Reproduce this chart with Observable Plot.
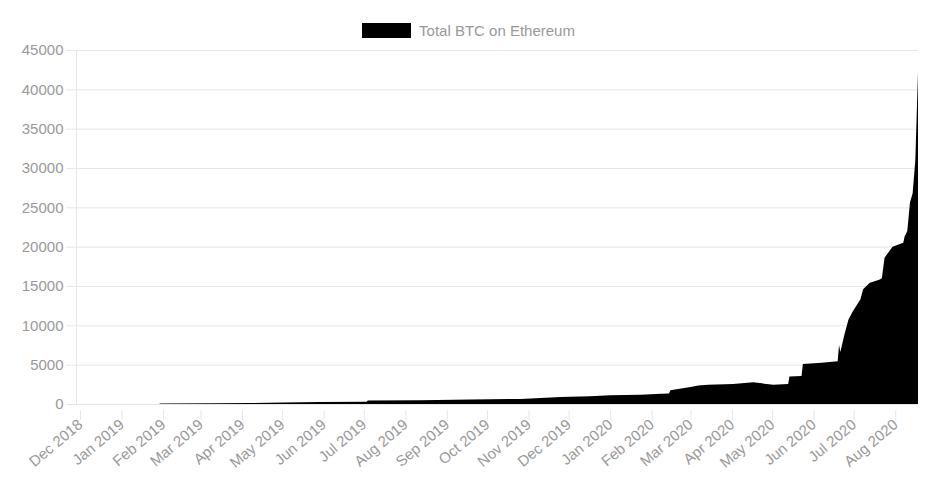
<!DOCTYPE html>
<html>
<head>
<meta charset="utf-8">
<script src="https://cdn.jsdelivr.net/npm/d3@7"></script>
<script src="https://cdn.jsdelivr.net/npm/@observablehq/plot@0.6"></script>
<style>
  html, body { margin: 0; padding: 0; background: #fff; }
  body { width: 937px; height: 503px; overflow: hidden; font-family: "Liberation Sans", Arial, Helvetica, sans-serif; }
  #legend { height: 40px; display: flex; justify-content: center; align-items: center; box-sizing: border-box; font-size: 15px; color: #999; }
  #legend .box { width: 49px; height: 15px; background: #000; margin-right: 8px; margin-top: 20px; }
  #legend .lbl { margin-top: 20px; line-height: 15px; }
</style>
</head>
<body>
<div id="legend"><span class="box"></span><span class="lbl">Total BTC on Ethereum</span></div>
<div id="chart"></div>
<script>
const seriesName = "Total BTC on Ethereum";
const dates = [
  "2019-02-01","2019-02-02","2019-03-15","2019-04-10","2019-05-05","2019-06-01","2019-07-06","2019-07-07",
  "2019-08-15","2019-09-22","2019-10-29","2019-11-28","2019-12-20","2020-01-04","2020-01-27","2020-02-11",
  "2020-02-17","2020-02-18","2020-03-04","2020-03-10","2020-03-17","2020-04-05","2020-04-20","2020-05-05",
  "2020-05-16","2020-05-17","2020-05-26","2020-05-27","2020-06-10","2020-06-22","2020-06-23","2020-06-24",
  "2020-06-27","2020-06-30","2020-07-03","2020-07-09","2020-07-11","2020-07-16","2020-07-23","2020-07-25",
  "2020-07-27","2020-08-02","2020-08-10","2020-08-11","2020-08-13","2020-08-15","2020-08-17","2020-08-19",
  "2020-08-20","2020-08-21"
];
const values = [
  0, 60, 80, 120, 200, 260, 300, 450,
  480, 560, 640, 900, 1000, 1100, 1170, 1300,
  1350, 1750, 2150, 2350, 2450, 2550, 2750, 2450,
  2550, 3500, 3550, 5100, 5250, 5450, 7500, 6600,
  8800, 10700, 11700, 13300, 14600, 15400, 15800, 16000,
  18600, 20000, 20500, 21300, 22000, 25600, 26800, 31000,
  36500, 42200
];
const xDomainDates = ["2018-12-01", "2020-08-21"];
const xTickDates = [
  "2018-12-01","2019-01-01","2019-02-01","2019-03-01","2019-04-01","2019-05-01","2019-06-01","2019-07-01",
  "2019-08-01","2019-09-01","2019-10-01","2019-11-01","2019-12-01","2020-01-01","2020-02-01","2020-03-01",
  "2020-04-01","2020-05-01","2020-06-01","2020-07-01","2020-08-01"
];
const yTicks = [0, 5000, 10000, 15000, 20000, 25000, 30000, 35000, 40000, 45000];
const yDomain = [0, 45000];

const data = dates.map((d, i) => ({date: new Date(d), value: values[i]}));
const xDomain = xDomainDates.map(d => new Date(d));
const xTicks = xTickDates.map(d => new Date(d));
const fmt = d3.utcFormat("%b %Y");

const gridColor = "#e6e6e6";
const textColor = "#999";

const chart = Plot.plot({
  width: 937,
  height: 463,
  marginTop: 10,
  marginLeft: 76,
  marginRight: 19,
  marginBottom: 99,
  style: {fontFamily: '"Liberation Sans", Arial, Helvetica, sans-serif', fontSize: "15px", background: "#fff"},
  x: {type: "utc", domain: xDomain},
  y: {domain: yDomain},
  marks: [
    Plot.gridY(yTicks, {stroke: gridColor, strokeOpacity: 1}),
    Plot.ruleX([xDomain[0]], {stroke: gridColor, strokeOpacity: 1}),
    Plot.areaY(data, {x: "date", y: "value", fill: "#000", curve: "linear"}),
    Plot.axisY(yTicks, {tickSize: 10, tickPadding: 3, stroke: gridColor, strokeOpacity: 1, fill: textColor, fontSize: 15, tickFormat: d => String(d), label: null}),
    Plot.axisX(xTicks, {tickSize: 10, tickPadding: 2, tickRotate: -40, stroke: gridColor, strokeOpacity: 1, fill: textColor, fontSize: 15, tickFormat: fmt, label: null, dx: 4, dy: 6})
  ]
});
document.getElementById("chart").appendChild(chart);
</script>
</body>
</html>
